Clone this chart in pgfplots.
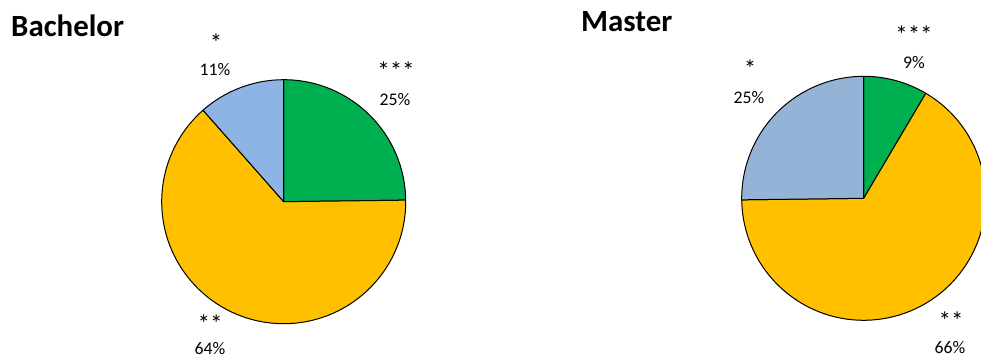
\documentclass[border=0pt]{standalone}
\usepackage{pgfplots}
\usepackage{pgfplotstable}
\pgfplotsset{compat=1.18}
\usepackage{fontspec}
\setmainfont{Carlito}
\definecolor{pgreen}{HTML}{00B050}
\definecolor{pyellow}{HTML}{FFC000}
\definecolor{pblueB}{HTML}{8EB4E3}
\definecolor{pblueM}{HTML}{95B3D7}

% shares in percent, clockwise from 12 o'clock: ***, **, *
\pgfplotstableread{
cat share
3 24.8
2 63.7
1 11.5
}\bachelor
\pgfplotstableread{
cat share
3 8.5
2 66.3
1 25.2
}\master

\newcommand\sector[6]{%
  \filldraw[fill=#6,draw=black,line width=1bp,line join=round]
    (axis cs:#1,#2) -- (axis cs:{#1+#3*cos(#4)},{#2+#3*sin(#4)})
    arc[start angle=#4,end angle=#5,radius=#3bp] -- cycle;}
\newcommand\stars[1]{{\fontsize{25}{26}\selectfont#1}}

\begin{document}
\begin{tikzpicture}
\useasboundingbox (0,0) rectangle (981bp,359bp);
\pgfplotstablegetelem{0}{share}\of\bachelor \pgfmathsetmacro\bA{\pgfplotsretval}
\pgfplotstablegetelem{1}{share}\of\bachelor \pgfmathsetmacro\bB{\pgfplotsretval}
\pgfplotstablegetelem{0}{share}\of\master \pgfmathsetmacro\mA{\pgfplotsretval}
\pgfplotstablegetelem{1}{share}\of\master \pgfmathsetmacro\mB{\pgfplotsretval}
\pgfmathsetmacro\bOne{90-3.6*\bA}
\pgfmathsetmacro\bTwo{\bOne-3.6*\bB}
\pgfmathsetmacro\mOne{90-3.6*\mA}
\pgfmathsetmacro\mTwo{\mOne-3.6*\mB}
\begin{axis}[
  scale only axis, width=981bp, height=359bp,
  xmin=0, xmax=981, ymin=0, ymax=359,
  hide axis, clip=true,
]
% Bachelor pie
\sector{283.7}{157.3}{122}{90}{\bOne}{pgreen}
\sector{283.7}{157.3}{122}{\bOne}{\bTwo}{pyellow}
\sector{283.7}{157.3}{122}{\bTwo}{-270}{pblueB}
% Master pie
\sector{863.7}{160.7}{122}{90}{\mOne}{pgreen}
\sector{863.7}{160.7}{122}{\mOne}{\mTwo}{pyellow}
\sector{863.7}{160.7}{122}{\mTwo}{-270}{pblueM}

\begin{scope}[every node/.style={font=\fontsize{17.8}{20}\selectfont, inner sep=0pt}]
% Bachelor labels
\node at (axis cs:216,316) {\stars{*}};
\node at (axis cs:215,289) {11\%};
\node at (axis cs:396,288) {\stars{***}};
\node at (axis cs:395,259) {25\%};
\node at (axis cs:210,35) {\stars{**}};
\node at (axis cs:210,10) {64\%};
% Master labels
\node at (axis cs:914,324) {\stars{***}};
\node at (axis cs:914,296) {9\%};
\node at (axis cs:750,290) {\stars{*}};
\node at (axis cs:749,261) {25\%};
\node at (axis cs:951,38) {\stars{**}};
\node at (axis cs:950,11) {66\%};
\end{scope}
\node[anchor=base west, inner sep=0pt, font=\fontsize{31}{36}\selectfont\bfseries] at (axis cs:11,322) {Bachelor};
\node[anchor=base west, inner sep=0pt, font=\fontsize{31}{36}\selectfont\bfseries] at (axis cs:581,327) {Master};
\end{axis}
\end{tikzpicture}
\end{document}
